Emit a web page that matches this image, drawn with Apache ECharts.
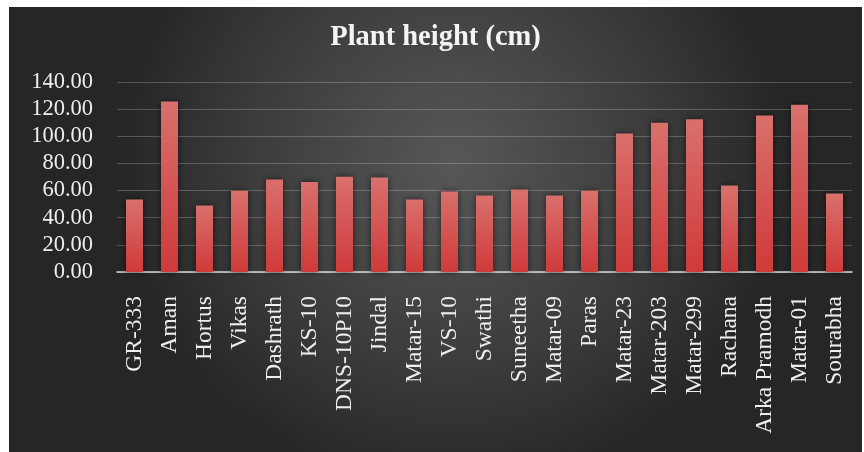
<!DOCTYPE html>
<html>
<head>
<meta charset="utf-8">
<script src="https://cdn.jsdelivr.net/npm/echarts@6/dist/echarts.min.js"></script>
<style>
  html, body { margin: 0; padding: 0; background: #ffffff; width: 864px; height: 452px; overflow: hidden; }
  #chart { position: absolute; left: 9px; top: 7px; width: 853px; height: 445px; }
</style>
</head>
<body>
<div id="chart"></div>
<script>
const titleText = 'Plant height (cm)';
const categories = ['GR-333', 'Aman', 'Hortus', 'Vikas', 'Dashrath', 'KS-10', 'DNS-10P10', 'Jindal', 'Matar-15', 'VS-10', 'Swathi', 'Suneetha', 'Matar-09', 'Paras', 'Matar-23', 'Matar-203', 'Matar-299', 'Rachana', 'Arka Pramodh', 'Matar-01', 'Sourabha'];
const plantHeight = [53.4, 125.7, 49.0, 59.8, 68.2, 66.4, 70.1, 69.6, 53.4, 59.3, 56.4, 60.8, 56.4, 59.8, 102.1, 110.0, 112.5, 63.8, 115.4, 123.3, 57.9];
const yMin = 0, yMax = 140, yStep = 20;

const chart = echarts.init(document.getElementById('chart'), null, { renderer: 'canvas' });
const serif = '"Liberation Serif", "Times New Roman", serif';
chart.setOption({
  backgroundColor: {
    type: 'radial', x: 0.52, y: 0.35, r: 0.75,
    colorStops: [
      { offset: 0, color: '#575757' },
      { offset: 0.6, color: '#3c3c3c' },
      { offset: 1, color: '#262626' }
    ]
  },
  animation: false,
  title: {
    text: titleText,
    left: 'center',
    top: 11,
    textStyle: { fontFamily: serif, fontWeight: 'bold', fontSize: 28.5, color: '#f4f4f4' }
  },
  grid: { left: 108, right: 10, top: 75, bottom: 180, containLabel: false },
  xAxis: {
    type: 'category',
    data: categories,
    axisLine: { lineStyle: { color: '#d8d8d8', width: 1.5 } },
    axisTick: { show: false },
    axisLabel: {
      interval: 0, rotate: 90, margin: 24,
      fontFamily: serif, fontSize: 23.5, color: '#eeeeee'
    }
  },
  yAxis: {
    type: 'value',
    min: yMin, max: yMax, interval: yStep,
    axisLine: { show: false },
    axisTick: { show: false },
    splitLine: { lineStyle: { color: 'rgba(255,255,255,0.22)', width: 1 } },
    axisLabel: {
      margin: 24,
      fontFamily: serif, fontSize: 22.5, color: '#eeeeee',
      formatter: v => v.toFixed(2)
    }
  },
  series: [{
    type: 'bar',
    data: plantHeight,
    barWidth: 17,
    itemStyle: {
      color: {
        type: 'linear', x: 0, y: 0, x2: 0, y2: 1,
        colorStops: [
          { offset: 0, color: '#d9706c' },
          { offset: 1, color: '#cf3a3a' }
        ]
      },
      shadowColor: 'rgba(0,0,0,0.6)',
      shadowBlur: 6
    }
  }]
});
</script>
</body>
</html>
